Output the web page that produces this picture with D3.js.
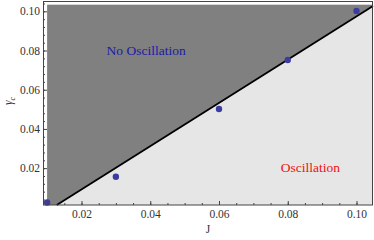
<!DOCTYPE html>
<html lang="en">
<head>
<meta charset="utf-8">
<script src="https://d3js.org/d3.v7.min.js"></script>
<style>
    body { margin: 0; background: #fff; }
    svg text { font-family: "Liberation Serif", "Times New Roman", serif; }
</style>
</head>
<body>
<div id="chart"></div>
<script>
    // data points (J, gamma_c)
    var pointJ = [0.01, 0.03, 0.06, 0.08, 0.10];
    var pointG = [0.0025, 0.0156, 0.0502, 0.0752, 0.1002];

    // boundary line end points
    var lineJ = [0.0128, 0.1048];
    var lineG = [0.0012, 0.1027];

    // filled region extent
    var regionJ = [0.01, 0.1048];
    var regionG = [0.0012, 0.1034];

    var xTicks = [0.02, 0.04, 0.06, 0.08, 0.10];
    var yTicks = [0.02, 0.04, 0.06, 0.08, 0.10];

    var width = 374, height = 240;

    var svg = d3.select("#chart").append("svg")
        .attr("width", width)
        .attr("height", height);

    var x = d3.scaleLinear().domain([0.0088, 0.1048]).range([43, 373]);
    var y = d3.scaleLinear().domain([0.0012, 0.1049]).range([205, 1.7]);

    // light region (oscillation)
    svg.append("rect")
        .attr("x", x(regionJ[0]))
        .attr("y", y(regionG[1]))
        .attr("width", x(regionJ[1]) - x(regionJ[0]))
        .attr("height", y(regionG[0]) - y(regionG[1]))
        .attr("fill", "#e6e6e6");

    // dark region above the line
    var dark = [
        [regionJ[0], regionG[0]],
        [lineJ[0], lineG[0]],
        [lineJ[1], lineG[1]],
        [regionJ[1], regionG[1]],
        [regionJ[0], regionG[1]]
    ];
    svg.append("path")
        .attr("d", d3.line().x(d => x(d[0])).y(d => y(d[1]))(dark) + "Z")
        .attr("fill", "#808080");

    // boundary
    svg.append("line")
        .attr("x1", x(lineJ[0])).attr("y1", y(lineG[0]))
        .attr("x2", x(lineJ[1])).attr("y2", y(lineG[1]))
        .attr("stroke", "#000")
        .attr("stroke-width", 1.8);

    // points
    svg.selectAll("circle.pt")
        .data(pointJ)
        .enter()
        .append("circle")
        .attr("class", "pt")
        .attr("cx", d => x(d))
        .attr("cy", (d, i) => y(pointG[i]))
        .attr("r", 3.2)
        .attr("fill", "#3c3ca0");

    // frame
    svg.append("rect")
        .attr("x", 43.5).attr("y", 1.5)
        .attr("width", 329).attr("height", 203.5)
        .attr("fill", "none")
        .attr("stroke", "#444")
        .attr("stroke-width", 1);

    // axes with inward ticks
    var minorX = d3.range(0.01, 0.1046, 0.005);
    var minorY = d3.range(0.004, 0.1046, 0.004);

    var xAxis = svg.append("g").attr("transform", "translate(0,205)")
        .call(d3.axisBottom(x).tickValues(xTicks).tickSizeInner(-4).tickSizeOuter(0)
            .tickPadding(5).tickFormat(d3.format(".2f")));
    svg.append("g").attr("transform", "translate(0,205)")
        .call(d3.axisBottom(x).tickValues(minorX).tickSizeInner(-2).tickSizeOuter(0).tickFormat(""));

    var yAxis = svg.append("g").attr("transform", "translate(43,0)")
        .call(d3.axisLeft(y).tickValues(yTicks).tickSizeInner(-4).tickSizeOuter(0)
            .tickPadding(3).tickFormat(d3.format(".2f")));
    svg.append("g").attr("transform", "translate(43,0)")
        .call(d3.axisLeft(y).tickValues(minorY).tickSizeInner(-2).tickSizeOuter(0).tickFormat(""));

    svg.selectAll(".domain").remove();
    svg.selectAll(".tick line").attr("stroke", "#444");
    svg.selectAll(".tick text")
        .attr("fill", "#333")
        .style("font-size", "11.5px")
        .style("font-family", "'Liberation Serif', 'Times New Roman', serif");

    // axis labels
    svg.append("text")
        .attr("x", 208).attr("y", 233)
        .attr("text-anchor", "middle")
        .attr("fill", "#333")
        .style("font-size", "11.5px")
        .text("J");

    var yl = svg.append("text")
        .attr("transform", "translate(12,101) rotate(-90)")
        .attr("text-anchor", "middle")
        .attr("fill", "#333")
        .style("font-size", "11.5px")
        .style("font-style", "italic");
    yl.append("tspan").text("\u03b3");
    yl.append("tspan").attr("dy", 3).style("font-size", "8px").text("c");

    // region labels
    svg.append("text")
        .attr("x", x(0.0388)).attr("y", 55)
        .attr("text-anchor", "middle")
        .attr("fill", "#1a1aa8")
        .style("font-size", "13.5px")
        .text("No Oscillation");

    svg.append("text")
        .attr("x", x(0.0866)).attr("y", 172)
        .attr("text-anchor", "middle")
        .attr("fill", "#f01010")
        .style("font-size", "13.5px")
        .text("Oscillation");
</script>
</body>
</html>
